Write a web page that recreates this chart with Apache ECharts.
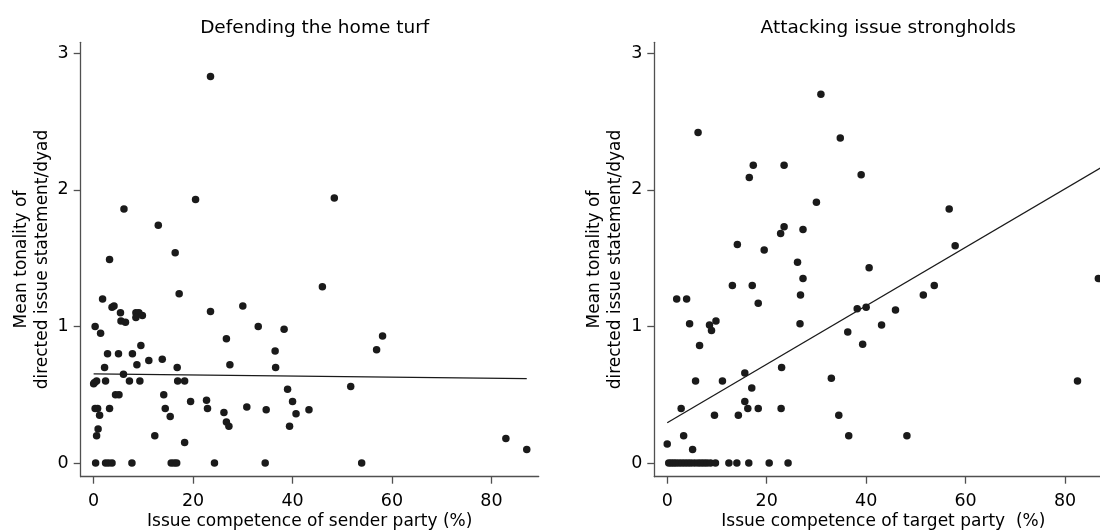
<!DOCTYPE html>
<html>
<head>
<meta charset="utf-8">
<title>Defending the home turf / Attacking issue strongholds</title>
<script src="https://cdn.jsdelivr.net/npm/echarts@6/dist/echarts.min.js"></script>
<style>
  html, body { margin: 0; padding: 0; background: #fff; }
  #chart { width: 1100px; height: 532px; }
</style>
</head>
<body>
<div id="chart"></div>
<script>
// titles and axis labels
var panelTitles = ['Defending the home turf', 'Attacking issue strongholds'];
var xNames = ['Issue competence of sender party (%)', 'Issue competence of target party  (%)'];
var yName = 'Mean tonality of\ndirected issue statement/dyad';
var xTicks = [0, 20, 40, 60, 80];
var yTicks = [0, 1, 2, 3];

// left panel: sender party competence vs tonality
var senderPoints = [
  [23.5, 2.83], [20.5, 1.93], [48.4, 1.94], [6.1, 1.86], [13.0, 1.74], [16.4, 1.54], [3.2, 1.49],
  [46.0, 1.29], [17.2, 1.24], [1.8, 1.20], [3.7, 1.14], [4.1, 1.15], [5.4, 1.10], [5.5, 1.04],
  [6.4, 1.03], [8.5, 1.10], [9.1, 1.10], [9.8, 1.08], [8.5, 1.065], [23.5, 1.11], [30.0, 1.15],
  [0.3, 1.0], [1.4, 0.95], [33.1, 1.0], [38.3, 0.98], [9.5, 0.86], [26.7, 0.91], [58.1, 0.93],
  [56.9, 0.83], [36.5, 0.82], [2.8, 0.80], [5.0, 0.80], [7.8, 0.80], [11.1, 0.75], [13.8, 0.76],
  [8.7, 0.72], [27.4, 0.72], [2.2, 0.70], [16.8, 0.70], [36.6, 0.70], [6.0, 0.65], [0, 0.58],
  [0.2, 0.59], [0.6, 0.60], [2.4, 0.60], [7.2, 0.60], [9.3, 0.60], [16.9, 0.60], [18.3, 0.60],
  [51.7, 0.56], [39.0, 0.54], [4.4, 0.50], [5.1, 0.50], [14.1, 0.50], [22.7, 0.46], [19.5, 0.45],
  [40.0, 0.45], [30.8, 0.41], [34.7, 0.39], [43.3, 0.39], [0.3, 0.40], [0.8, 0.40], [3.2, 0.40],
  [14.4, 0.40], [22.9, 0.40], [1.2, 0.35], [15.4, 0.34], [26.2, 0.37], [40.7, 0.36], [26.7, 0.30],
  [27.2, 0.27], [39.4, 0.27], [0.9, 0.25], [0.6, 0.20], [12.3, 0.20], [18.3, 0.15], [82.9, 0.18],
  [87.1, 0.10],
  [0.4, 0], [2.4, 0], [3.0, 0], [3.7, 0], [7.7, 0], [15.6, 0], [16.2, 0], [16.7, 0], [24.3, 0],
  [34.5, 0], [53.9, 0]
];
var senderFit = [0.653, -0.00041];   // intercept, slope
var senderFitRange = [0, 87.1];

// right panel: target party competence vs tonality
var targetPoints = [
  [30.9, 2.70], [6.2, 2.42], [34.8, 2.38], [17.3, 2.18], [23.5, 2.18], [16.5, 2.09], [39.0, 2.11],
  [30.0, 1.91], [56.7, 1.86], [23.5, 1.73], [22.8, 1.68], [27.3, 1.71], [14.1, 1.60], [57.9, 1.59],
  [19.5, 1.56], [26.2, 1.47], [40.6, 1.43], [27.3, 1.35], [13.1, 1.30], [17.1, 1.30], [53.7, 1.30],
  [86.7, 1.35], [18.3, 1.17], [1.9, 1.20], [3.9, 1.20], [26.8, 1.23], [51.5, 1.23], [38.2, 1.13],
  [40.0, 1.14], [45.9, 1.12], [9.8, 1.04], [4.5, 1.02], [8.5, 1.01], [8.9, 0.97], [26.7, 1.02],
  [43.1, 1.01], [36.3, 0.96], [6.5, 0.86], [39.3, 0.87], [23.0, 0.70], [15.6, 0.66], [33.0, 0.62],
  [5.7, 0.60], [11.1, 0.60], [82.5, 0.60], [17.0, 0.55], [15.6, 0.45], [16.2, 0.40], [2.8, 0.40],
  [18.3, 0.40], [22.9, 0.40], [9.5, 0.35], [14.3, 0.35], [34.5, 0.35], [3.3, 0.20], [36.5, 0.20],
  [48.2, 0.20], [5.1, 0.10], [0, 0.14],
  [0.3, 0], [0.8, 0], [1.3, 0], [1.8, 0], [2.4, 0], [3.0, 0], [3.6, 0], [4.2, 0], [4.8, 0],
  [5.5, 0], [6.2, 0], [6.8, 0], [7.4, 0], [8.0, 0], [8.7, 0], [9.7, 0], [12.4, 0], [14.0, 0],
  [16.4, 0], [20.5, 0], [24.3, 0]
];
var targetFit = [0.295, 0.0214];
var targetFitRange = [0, 89.5];

function fitLine(fit, range) {
  return range.map(function (x) { return [x, fit[0] + fit[1] * x]; });
}

var font = 'DejaVu Sans';
var axisColor = '#505050';
var dotColor = '#1a1a1a';
var gridLefts = [80.7, 654.3];
var gridW = 458, gridTop = 42.3, gridH = 434.4;

function xAxisFor(i) {
  return {
    type: 'value', gridIndex: i, min: -2.6, max: 89.5,
    name: xNames[i], nameLocation: 'middle', nameGap: 36, nameMoveOverlap: false,
    nameTextStyle: { fontFamily: font, fontSize: 17, color: '#000' },
    axisLine: { show: true, onZero: false, lineStyle: { color: axisColor, width: 1.3 } },
    axisTick: { show: true, length: 7, customValues: xTicks, lineStyle: { color: axisColor, width: 1.3 } },
    axisLabel: { customValues: xTicks, margin: 16, fontFamily: font, fontSize: 17.5, color: '#000' },
    splitLine: { show: false }
  };
}

function yAxisFor(i) {
  return {
    type: 'value', gridIndex: i, min: -0.1, max: 3.08,
    name: yName, nameLocation: 'middle', nameRotate: 90, nameGap: 28, nameMoveOverlap: false,
    nameTextStyle: { fontFamily: font, fontSize: 17, lineHeight: 21, color: '#000' },
    axisLine: { show: true, onZero: false, lineStyle: { color: axisColor, width: 1.3 } },
    axisTick: { show: true, length: 7, customValues: yTicks, lineStyle: { color: axisColor, width: 1.3 } },
    axisLabel: { customValues: yTicks, margin: 12, fontFamily: font, fontSize: 17.5, color: '#000' },
    splitLine: { show: false }
  };
}

function scatterFor(i, pts) {
  return {
    type: 'scatter', xAxisIndex: i, yAxisIndex: i, data: pts,
    symbol: 'circle', symbolSize: 7.5,
    itemStyle: { color: dotColor, opacity: 1 }
  };
}

function lineFor(i, pts) {
  return {
    type: 'line', xAxisIndex: i, yAxisIndex: i, data: pts,
    showSymbol: false, silent: true,
    lineStyle: { color: dotColor, width: 1.3 }
  };
}

var chart = echarts.init(document.getElementById('chart'));
chart.setOption({
  animation: false,
  backgroundColor: '#fff',
  title: panelTitles.map(function (t, i) {
    return {
      text: t, left: gridLefts[i] + gridW / 2, top: 14, textAlign: 'center',
      textStyle: { fontFamily: font, fontSize: 18.5, fontWeight: 'normal', color: '#000' }
    };
  }),
  grid: gridLefts.map(function (l) {
    // the right panel runs past the canvas edge, as in the original
    return { left: l, top: gridTop, width: gridW, height: gridH, containLabel: false, outerBoundsMode: 'none' };
  }),
  xAxis: [xAxisFor(0), xAxisFor(1)],
  yAxis: [yAxisFor(0), yAxisFor(1)],
  series: [
    scatterFor(0, senderPoints),
    lineFor(0, fitLine(senderFit, senderFitRange)),
    scatterFor(1, targetPoints),
    lineFor(1, fitLine(targetFit, targetFitRange))
  ]
});
</script>
</body>
</html>
